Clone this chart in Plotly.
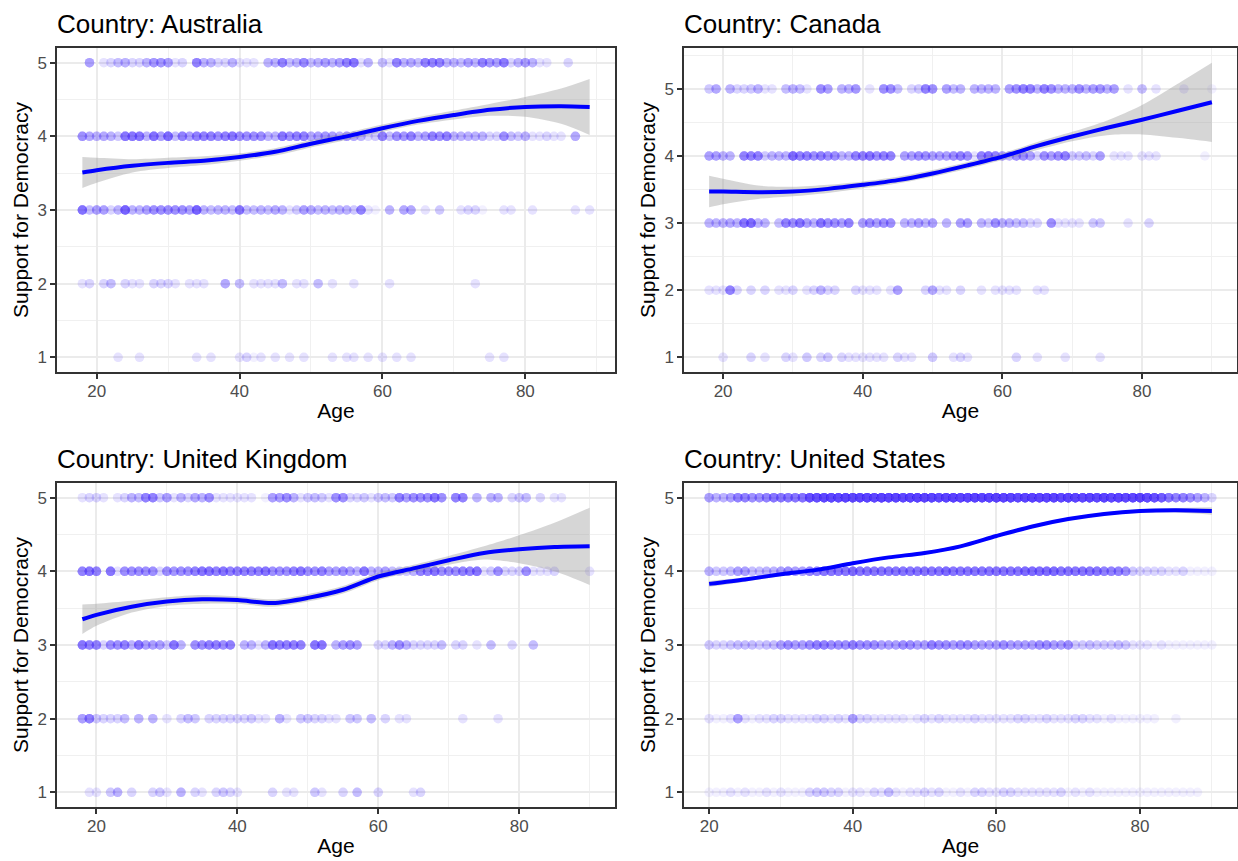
import plotly.graph_objects as go

# Respondent counts per age (18..90) at each support level
AGES = list(range(18, 91))
LEVELS = [1, 2, 3, 4, 5]

AUS_5 = [0,8,0,2,3,5,6,3,3,6, 9,9,8,2,3,0,12,6,6,3, 3,6,2,2,2,0,6,6,12,5,
         6,11,5,6,8,6,8,12,14,2, 6,0,5,2,12,6,7,5,12,12, 12,6,6,5,8,6,12,9,8,13,
         3,6,8,6,2,2,0,0,3,0, 0,0,0]
AUS_4 = [10,7,6,7,6,4,14,14,14,6, 15,8,16,5,12,8,12,12,12,10, 12,14,10,10,10,10,6,6,14,10,
         12,12,7,8,9,8,6,9,7,6, 3,4,12,5,10,9,12,6,8,12, 10,12,6,6,6,6,6,3,3,10,
         5,4,6,2,2,3,2,2,0,7, 0,0,0]
AUS_3 = [15,5,8,8,3,6,18,6,6,8, 10,10,10,10,10,8,18,6,5,6, 6,5,14,5,5,6,5,7,6,2,
         4,8,7,5,6,5,6,6,4,12, 2,1,0,6,0,7,7,0,2,0, 4,0,0,2,3,3,1,0,0,2,
         2,0,0,2,0,0,0,0,0,2, 0,2,0]
AUS_2 = [2,3,0,3,5,0,3,2,2,0, 3,3,3,2,0,2,2,2,0,0, 7,0,5,0,2,2,2,2,5,0,
         2,2,0,5,0,2,0,0,2,0, 0,0,0,2,0,0,0,0,0,0, 0,0,0,0,0,2,0,0,0,0]
AUS_1 = [0,0,0,0,0,2,0,0,2,0, 0,0,0,0,0,0,2,0,2,0, 0,0,2,3,1,2,0,2,0,2,
         0,2,0,0,0,2,0,2,2,0, 2,0,2,0,2,0,2,0,0,0, 0,0,0,0,0,0,0,2,0,2]

CAN_5 = [4,7,0,6,3,3,4,6,2,2, 0,5,6,5,2,0,10,8,0,6, 6,9,0,2,0,10,10,5,0,3,
         4,12,10,0,8,5,6,0,6,6, 6,6,0,8,10,12,12,6,12,10, 6,6,6,10,6,8,9,6,8,0,
         2,0,5,0,2,0,0,0,2,0, 0,0,1]
CAN_4 = [8,8,6,6,0,12,12,12,4,6, 6,6,16,12,12,10,12,10,10,6, 6,12,12,14,10,12,12,0,8,8,
         10,10,8,8,8,10,12,10,2,12, 14,12,8,6,10,10,8,3,10,8, 10,12,4,4,5,3,8,0,2,2,
         2,0,2,2,2,0,0,0,0,0, 0,1,0]
CAN_3 = [6,6,6,7,6,14,16,6,6,0, 5,12,10,14,8,6,14,10,10,8, 12,0,8,10,8,10,10,0,6,6,
         8,6,8,0,6,0,8,8,0,6, 4,10,6,6,5,5,3,3,0,10, 2,2,2,2,0,4,4,0,0,0,
         2,0,0,3,0,0,0,0,0,0, 0,0,0]
CAN_2 = [2,2,2,12,3,0,3,0,3,0, 2,2,3,0,2,3,6,3,3,0, 0,3,2,2,2,0,2,8,0,0,
         0,3,7,2,2,0,3,0,0,2, 0,2,2,2,2,0,0,2,2,0]
CAN_1 = [0,0,2,0,0,0,3,0,2,0, 0,3,2,0,4,0,3,4,0,3, 2,2,2,2,2,2,0,3,2,2,
         0,0,4,0,0,2,3,2,0,0, 0,0,0,0,3,0,0,2,0,0, 0,2,0,0,0,0,2,0,0,0]

GBR_5 = [2,3,3,2,0,2,3,6,5,12, 12,4,8,2,6,3,7,6,10,2, 2,2,2,2,2,0,1,8,8,10,
         6,2,4,5,4,2,10,10,3,3, 4,2,4,5,4,12,8,10,10,10, 14,10,0,12,12,0,6,0,6,6,
         0,3,4,5,0,3,0,2,2,0, 0,0,0]
GBR_4 = [12,14,12,0,14,2,10,10,10,10, 10,3,10,9,10,10,12,14,14,12, 14,12,12,12,12,12,14,10,10,10,
         12,14,10,10,12,8,8,10,8,6, 14,6,6,8,5,4,4,6,12,12, 14,10,10,10,12,12,14,2,4,10,
         3,3,3,10,2,2,2,3,0,0, 0,0,2]
GBR_3 = [14,12,12,3,10,10,12,6,14,8, 8,8,4,14,6,0,10,10,12,12, 10,12,0,6,6,2,6,14,12,12,
         12,12,0,14,14,0,6,8,10,8, 0,0,3,3,6,10,6,3,3,3, 3,5,0,3,3,0,2,0,5,0,
         0,3,0,0,5,0,0,0,0,0, 0,0,0]
GBR_2 = [8,12,4,3,3,3,5,0,6,0, 6,0,2,0,3,5,4,0,3,3, 3,3,3,3,4,2,2,0,6,2,
         0,4,4,3,3,2,2,0,4,4, 0,5,0,3,0,2,2,0,0,0, 0,0,0,0,2,0,0,0,0,2]
GBR_1 = [0,2,2,0,4,6,0,3,0,0, 3,4,2,0,6,0,3,2,0,3, 4,3,2,0,0,0,0,3,0,2,
         2,0,0,4,2,0,0,3,0,5, 0,0,3,0,0,0,0,2,3,0]

USA_5 = [0,0,8,6,6,8,12,12,10,10, 12,14,14,14,14,15,25,25,28,28, 28,30,28,30,30,28,32,30,30,28,
         30,32,30,30,28,30,32,30,30,32, 30,30,32,30,30,28,30,32,30,30, 30,28,30,30,28,30,28,30,28,30,
         28,28,30,26,24,20,14,12,12,10, 8,6,3]
USA_4 = [0,0,6,4,4,5,8,8,5,5, 6,6,8,10,8,8,12,12,14,14, 14,14,16,14,14,14,14,14,14,14,
         14,14,14,14,14,16,14,14,14,14, 14,14,14,14,14,14,16,16,16,16, 16,14,14,14,14,14,14,12,12,12,
         10,4,3,3,3,3,2,2,3,1, 1,1,1]
USA_3 = [0,0,4,3,3,4,5,5,5,4, 5,5,8,10,8,8,10,12,12,10, 10,10,12,10,10,10,8,8,8,10,
         10,8,8,12,10,10,8,10,10,8, 8,8,8,10,8,8,8,8,10,10, 8,8,10,4,4,5,4,4,4,5,
         4,2,2,2,1,2,1,1,1,1, 1,1,1]
USA_2 = [0,0,2,1,1,2,8,2,1,2, 2,3,3,2,2,2,2,3,3,2, 3,2,8,3,3,2,2,2,2,2,
         1,2,3,2,3,2,2,2,2,3, 2,2,2,2,2,3,3,2,2,3, 2,2,2,3,3,2,2,1,2,1,
         1,1,1,1,1,0,0,1,0,0, 0,0,0]
USA_1 = [0,0,1,1,1,2,1,2,1,1, 2,1,2,1,1,1,3,4,4,3, 3,1,2,2,1,3,2,5,2,1,
         2,2,3,2,3,1,1,2,1,3, 3,2,2,3,3,2,2,2,2,2, 2,3,1,2,1,2,1,1,1,1,
         1,1,1,1,1,1,1,1,1,1, 1,0,0]

# Loess fit with 95% band, sampled along age
AUS_FIT_AGE = [18, 20, 25, 30, 35, 40, 45, 50, 55, 60, 65, 70, 75, 80, 85, 89]
AUS_FIT = [3.51, 3.54, 3.60, 3.64, 3.67, 3.72, 3.79, 3.90, 4.00, 4.11, 4.21, 4.29, 4.36, 4.40, 4.41, 4.40]
AUS_SE = [0.21, 0.17, 0.09, 0.07, 0.06, 0.05, 0.05, 0.05, 0.05, 0.05, 0.05, 0.06, 0.08, 0.135, 0.24, 0.38]

CAN_FIT_AGE = [18, 20, 25, 30, 35, 40, 45, 50, 55, 60, 65, 70, 75, 80, 85, 90]
CAN_FIT = [3.47, 3.47, 3.46, 3.47, 3.51, 3.57, 3.64, 3.74, 3.86, 3.99, 4.15, 4.29, 4.42, 4.54, 4.67, 4.80]
CAN_SE = [0.235, 0.19, 0.10, 0.07, 0.06, 0.05, 0.05, 0.05, 0.05, 0.05, 0.06, 0.07, 0.11, 0.22, 0.40, 0.59]

GBR_FIT_AGE = [18, 20, 25, 30, 35, 40, 45, 50, 55, 60, 65, 70, 75, 80, 85, 90]
GBR_FIT = [3.35, 3.41, 3.52, 3.59, 3.62, 3.61, 3.57, 3.64, 3.75, 3.93, 4.04, 4.15, 4.25, 4.30, 4.33, 4.34]
GBR_SE = [0.20, 0.15, 0.08, 0.06, 0.06, 0.05, 0.05, 0.05, 0.05, 0.05, 0.05, 0.06, 0.09, 0.19, 0.33, 0.525]

USA_FIT_AGE = [20, 25, 30, 35, 40, 45, 50, 55, 60, 65, 70, 75, 80, 85, 90]
USA_FIT = [3.83, 3.89, 3.96, 4.02, 4.11, 4.19, 4.25, 4.34, 4.48, 4.61, 4.71, 4.78, 4.82, 4.83, 4.82]
USA_SE = [0.04, 0.03, 0.025, 0.02, 0.02, 0.02, 0.02, 0.02, 0.02, 0.02, 0.02, 0.02, 0.025, 0.03, 0.05]

COUNTRIES = ["Australia", "Canada", "United Kingdom", "United States"]

W, H = 1238, 861
FONT = "Liberation Sans, Arial, Helvetica, sans-serif"
POINT_COLOR = "rgba(85,55,255,0.075)"

panels = [
    dict(name=COUNTRIES[0], counts=[AUS_1, AUS_2, AUS_3, AUS_4, AUS_5],
         fa=AUS_FIT_AGE, fit=AUS_FIT, se=AUS_SE, px=(57, 615), py=(48, 372)),
    dict(name=COUNTRIES[1], counts=[CAN_1, CAN_2, CAN_3, CAN_4, CAN_5],
         fa=CAN_FIT_AGE, fit=CAN_FIT, se=CAN_SE, px=(684, 1237), py=(48, 372)),
    dict(name=COUNTRIES[2], counts=[GBR_1, GBR_2, GBR_3, GBR_4, GBR_5],
         fa=GBR_FIT_AGE, fit=GBR_FIT, se=GBR_SE, px=(57, 615), py=(483, 807)),
    dict(name=COUNTRIES[3], counts=[USA_1, USA_2, USA_3, USA_4, USA_5],
         fa=USA_FIT_AGE, fit=USA_FIT, se=USA_SE, px=(684, 1237), py=(483, 807)),
]


def expand(counts, level):
    xs, ys = [], []
    for age, n in zip(AGES, counts):
        xs += [age] * n
        ys += [level] * n
    return xs, ys


def padded(lo, hi):
    span = hi - lo
    return [lo - 0.05 * span, hi + 0.05 * span]


fig = go.Figure()
layout = {}
annotations = []

for k, p in enumerate(panels, start=1):
    xa = "x" if k == 1 else f"x{k}"
    ya = "y" if k == 1 else f"y{k}"

    xs, ys = [], []
    for level, counts in zip(LEVELS, p["counts"]):
        a, b = expand(counts, level)
        xs += a
        ys += b

    fig.add_trace(go.Scatter(
        x=xs, y=ys, mode="markers", xaxis=xa, yaxis=ya, showlegend=False,
        marker=dict(size=9.5, color=POINT_COLOR, line=dict(width=0)),
        hoverinfo="skip"))

    lo = [f - s for f, s in zip(p["fit"], p["se"])]
    hi = [f + s for f, s in zip(p["fit"], p["se"])]
    fig.add_trace(go.Scatter(
        x=p["fa"], y=lo, xaxis=xa, yaxis=ya, mode="lines",
        line=dict(width=0, shape="spline", smoothing=0.8),
        showlegend=False, hoverinfo="skip"))
    fig.add_trace(go.Scatter(
        x=p["fa"], y=hi, xaxis=xa, yaxis=ya, mode="lines",
        fill="tonexty", fillcolor="rgba(153,153,153,0.4)",
        line=dict(width=0, shape="spline", smoothing=0.8),
        showlegend=False, hoverinfo="skip"))
    fig.add_trace(go.Scatter(
        x=p["fa"], y=p["fit"], xaxis=xa, yaxis=ya, mode="lines",
        line=dict(color="#0000FF", width=4, shape="spline", smoothing=0.8),
        showlegend=False, hoverinfo="skip"))

    xr = padded(min(xs), max(xs))
    yr = padded(min(min(ys), min(lo)), max(max(ys), max(hi)))

    common = dict(
        showline=True, linecolor="#333333", linewidth=1.5, mirror=True,
        ticks="outside", ticklen=5, tickwidth=1.5, tickcolor="#333333",
        tickfont=dict(family=FONT, size=17, color="#4D4D4D"),
        showgrid=True, gridcolor="#EBEBEB", gridwidth=2, zeroline=False,
        title_font=dict(family=FONT, size=21, color="black"),
    )
    layout["xaxis" if k == 1 else f"xaxis{k}"] = dict(
        common, anchor=ya, domain=[p["px"][0] / W, p["px"][1] / W],
        range=xr, tickmode="linear", tick0=0, dtick=20, ticklabelstandoff=-2,
        minor=dict(tick0=0, dtick=10, showgrid=True, gridcolor="#F0F0F0", gridwidth=1, ticks=""),
        title=dict(text="Age", standoff=3))
    layout["yaxis" if k == 1 else f"yaxis{k}"] = dict(
        common, anchor=xa, domain=[1 - p["py"][1] / H, 1 - p["py"][0] / H],
        range=yr, tickmode="linear", tick0=0, dtick=1,
        minor=dict(tick0=0, dtick=0.5, showgrid=True, gridcolor="#F0F0F0", gridwidth=1, ticks=""),
        title=dict(text="Support for Democracy", standoff=3))

    annotations.append(dict(
        text=f"Country: {p['name']}", xref="paper", yref="paper",
        x=(p["px"][0] - 2) / W, y=1 - (p["py"][0] - 7) / H, xanchor="left", yanchor="bottom",
        showarrow=False, font=dict(family=FONT, size=26, color="black")))

fig.update_layout(
    width=W, height=H, margin=dict(l=0, r=0, t=0, b=0),
    paper_bgcolor="white", plot_bgcolor="white",
    annotations=annotations, **layout)

fig.write_html("out.html")
